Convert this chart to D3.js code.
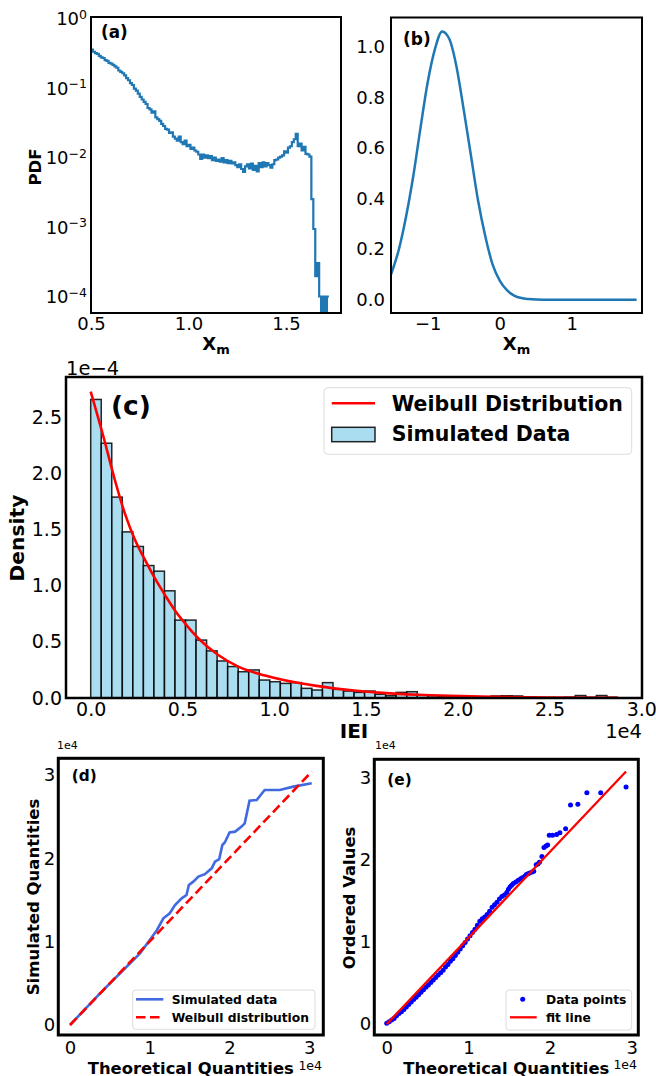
<!DOCTYPE html>
<html lang="en">
<head>
<meta charset="UTF-8">
<title>IEI statistics</title>
<script src="https://d3js.org/d3.v7.min.js"></script>
<style>
  body { margin: 0; background: #fff; }
  svg text { font-family: "DejaVu Sans", sans-serif; fill: #000; }
</style>
</head>
<body>
<div id="chart"></div>
<script>
// ---------- data ----------

// (a) histogram of X_m, log PDF, bins of 0.01 starting at 0.5
const aBinStart = 0.5, aBinWidth = 0.01;
const aPdf = [
  0.339, 0.316, 0.302, 0.295, 0.275, 0.263, 0.257, 0.240, 0.234, 0.219,
  0.214, 0.204, 0.195, 0.186, 0.170, 0.162, 0.155, 0.145, 0.132, 0.123,
  0.112, 0.105, 0.093, 0.087, 0.079, 0.071, 0.065, 0.060, 0.056, 0.049,
  0.047, 0.042, 0.044, 0.036, 0.034, 0.032, 0.029, 0.027, 0.0245, 0.024,
  0.0214, 0.0219, 0.019, 0.0178, 0.0166, 0.019, 0.0158, 0.0148, 0.0166, 0.0138,
  0.0145, 0.0126, 0.0132, 0.0120, 0.0115, 0.0105, 0.0091, 0.0105, 0.0095, 0.0102,
  0.0093, 0.0100, 0.0087, 0.0095, 0.0085, 0.0089, 0.0083, 0.0093, 0.0081, 0.0087,
  0.0079, 0.0085, 0.0078, 0.0081, 0.0074, 0.0069, 0.0076, 0.0065, 0.0059, 0.0071,
  0.0076, 0.0066, 0.0078, 0.0063, 0.0072, 0.0060, 0.0079, 0.0069, 0.0081, 0.0071,
  0.0079, 0.0074, 0.0068, 0.0076, 0.0087, 0.0089, 0.0095, 0.0098, 0.0102, 0.0117,
  0.0112, 0.0132, 0.0138, 0.0158, 0.0174, 0.0209, 0.0138, 0.0151, 0.0120, 0.0135,
  0.0107, 0.0105, 0.0098, 0.0024, 0.00089, 0.000186, 0.000288, 0.000095, 0, 0.000095,
  0, 0.000095
];

// (b) density curve of X_m
const bX = [-1.51, -1.4, -1.3, -1.2, -1.1, -1.0, -0.9, -0.8, -0.7, -0.6, -0.5, -0.4, -0.3,
            -0.2, -0.1, 0.0, 0.1, 0.2, 0.3, 0.4, 0.5, 0.7, 1.0, 1.5, 1.9];
const bY = [0.10, 0.20, 0.33, 0.49, 0.68, 0.86, 0.99, 1.06, 1.03, 0.92, 0.75, 0.57, 0.39,
            0.25, 0.14, 0.076, 0.038, 0.017, 0.007, 0.003, 0.001, 0.0, 0.0, 0.0, 0.0];

// (c) IEI histogram (x in 1e4, density in 1e-4), 50 bins
const cBinWidth = 0.0574;
const cDensity = [
  2.66, 2.27, 1.79, 1.48, 1.35, 1.18, 1.13, 0.955, 0.694, 0.694,
  0.516, 0.42, 0.33, 0.28, 0.234, 0.25, 0.16, 0.145, 0.13, 0.137,
  0.086, 0.071, 0.137, 0.077, 0.062, 0.05, 0.062, 0.033, 0.02, 0.05,
  0.056, 0.027, 0.02, 0.015, 0.012, 0.01, 0.008, 0.006, 0.018, 0.02,
  0.018, 0.005, 0.004, 0.004, 0.003, 0.006, 0.022, 0.005, 0.022, 0.006
];
const cFitX = [0, 0.069, 0.132, 0.187, 0.241, 0.296, 0.35, 0.405, 0.459, 0.514, 0.587,
               0.695, 0.804, 0.95, 1.05, 1.23, 1.41, 1.59, 1.78, 1.96, 2.2, 2.5, 2.87];
const cFitY = [2.73, 2.33, 1.94, 1.64, 1.41, 1.23, 1.065, 0.917, 0.78, 0.665, 0.53,
               0.383, 0.279, 0.20, 0.16, 0.108, 0.071, 0.046, 0.029, 0.019, 0.011, 0.005, 0.002];

// (d) Q-Q: simulated vs theoretical (1e4)
const dTheo = [0, 0.376, 0.668, 0.877, 1.0, 1.09, 1.17, 1.25, 1.316, 1.4, 1.46, 1.49, 1.545,
               1.61, 1.69, 1.776, 1.817, 1.87, 1.91, 1.94, 2.0, 2.07, 2.15, 2.19, 2.25, 2.34,
               2.44, 2.63, 2.80, 3.03];
const dSim  = [0, 0.38, 0.66, 0.86, 1.02, 1.14, 1.28, 1.34, 1.44, 1.52, 1.56, 1.68, 1.72,
               1.78, 1.81, 1.88, 1.96, 1.99, 2.16, 2.19, 2.31, 2.32, 2.38, 2.42, 2.69, 2.70,
               2.82, 2.82, 2.86, 2.90];
const dRefX = [0, 3.03], dRefY = [0, 3.04];

// (e) probability plot: ordered values vs theoretical quantiles (1e4)
const eTheo = [0.00, 0.03, 0.06, 0.09, 0.12, 0.15, 0.18, 0.21, 0.24, 0.27, 0.30, 0.33, 0.36,
               0.39, 0.42, 0.45, 0.48, 0.51, 0.54, 0.57, 0.60, 0.63, 0.66, 0.69, 0.72, 0.75,
               0.78, 0.81, 0.84, 0.87, 0.90, 0.93, 0.96, 0.99, 1.02, 1.05, 1.08, 1.11, 1.14,
               1.17, 1.20, 1.23, 1.26, 1.29, 1.32, 1.35, 1.38, 1.41, 1.44, 1.47, 1.49, 1.51,
               1.53, 1.55, 1.58, 1.61, 1.64, 1.66, 1.69, 1.71, 1.73, 1.75, 1.78, 1.80, 1.83,
               1.85, 1.87, 1.90, 1.925, 1.95, 1.97, 1.99, 2.03, 2.08, 2.12, 2.19, 2.25, 2.34,
               2.45, 2.62, 2.93];
const eOrd  = [0.00, 0.02, 0.04, 0.06, 0.09, 0.12, 0.14, 0.17, 0.20, 0.23, 0.26, 0.29, 0.32,
               0.35, 0.38, 0.41, 0.44, 0.47, 0.50, 0.53, 0.56, 0.59, 0.62, 0.65, 0.69, 0.72,
               0.76, 0.79, 0.83, 0.87, 0.91, 0.95, 0.99, 1.03, 1.07, 1.11, 1.15, 1.20, 1.25,
               1.28, 1.30, 1.33, 1.37, 1.42, 1.45, 1.48, 1.52, 1.55, 1.57, 1.60, 1.64, 1.67,
               1.69, 1.71, 1.73, 1.75, 1.77, 1.78, 1.80, 1.82, 1.83, 1.84, 1.85, 1.86, 1.94,
               1.95, 1.97, 2.04, 2.15, 2.17, 2.18, 2.30, 2.30, 2.31, 2.33, 2.38, 2.67, 2.68,
               2.82, 2.82, 2.89];
const eFitX = [0, 2.93], eFitY = [-0.01, 3.08];

// ---------- drawing ----------
const svg = d3.select("#chart").append("svg")
  .attr("width", 656).attr("height", 1076);

const FONT = "DejaVu Sans";

function frame(x0, y0, x1, y1, w) {
  svg.append("rect")
    .attr("x", x0).attr("y", y0)
    .attr("width", x1 - x0).attr("height", y1 - y0)
    .attr("fill", "none").attr("stroke", "#000").attr("stroke-width", w);
}

function clipRect(id, x0, y0, x1, y1) {
  svg.append("clipPath").attr("id", id).append("rect")
    .attr("x", x0).attr("y", y0).attr("width", x1 - x0).attr("height", y1 - y0);
}

function styleAxis(g, size) {
  g.attr("font-family", FONT).attr("font-size", size);
  g.select(".domain").remove();
  g.selectAll("text").attr("fill", "#000");
}

function text(x, y, str, size, opts = {}) {
  const t = svg.append("text")
    .attr("x", x).attr("y", y)
    .attr("font-size", size)
    .attr("font-weight", opts.bold ? "bold" : "normal")
    .attr("text-anchor", opts.anchor || "start")
    .text(str);
  if (opts.rotate) t.attr("transform", `rotate(-90, ${x}, ${y})`);
  return t;
}

function xmLabel(cx, y) {
  const t = svg.append("text").attr("x", cx).attr("y", y)
    .attr("text-anchor", "middle").attr("font-weight", "bold").attr("font-size", 18);
  t.append("tspan").text("X");
  t.append("tspan").attr("font-size", 13).attr("dy", 4).text("m");
}

// ----- (a) -----
{
  const x0 = 91, x1 = 341, y0 = 17, y1 = 313;
  const x = d3.scaleLinear().domain([0.5, 1.782]).range([x0, x1]);
  const y = d3.scaleLog().domain([5.5e-5, 1]).range([y1, y0]);
  clipRect("clipA", x0, y0, x1, y1);

  const pts = aPdf.map((v, i) => [aBinStart + i * aBinWidth, v]);
  pts.push([aBinStart + aPdf.length * aBinWidth, aPdf[aPdf.length - 1]]);
  svg.append("path")
    .attr("clip-path", "url(#clipA)")
    .attr("d", d3.line()
      .x(d => x(d[0]))
      .y(d => d[1] > 0 ? y(d[1]) : y1 + 20)
      .curve(d3.curveStepAfter)(pts))
    .attr("fill", "none").attr("stroke", "#1f77b4").attr("stroke-width", 2.2);

  svg.append("g").attr("transform", `translate(0,${y1})`)
    .call(d3.axisBottom(x).tickValues([0.5, 1.0, 1.5]).tickSize(0).tickPadding(4)
      .tickFormat(d3.format(".1f")))
    .call(g => styleAxis(g, 18));

  const exps = { 1: "0", 0.1: "−1", 0.01: "−2", 0.001: "−3", 0.0001: "−4" };
  svg.append("g").attr("transform", `translate(${x0},0)`)
    .call(d3.axisLeft(y).tickValues([1, 0.1, 0.01, 0.001, 0.0001]).tickSize(0).tickPadding(4)
      .tickFormat(() => ""))
    .call(g => styleAxis(g, 18))
    .call(g => g.selectAll(".tick text").attr("dy", "0.42em").each(function (d) {
      const t = d3.select(this);
      t.append("tspan").text("10");
      t.append("tspan").attr("dy", "-0.5em").attr("font-size", 12.5).text(exps[d]);
    }));

  frame(x0, y0, x1, y1, 2);
  text(101, 38, "(a)", 16.8, { bold: true });
  text(41, 167, "PDF", 16.5, { bold: true, anchor: "middle", rotate: true });
  xmLabel(216, 350);
}

// ----- (b) -----
{
  const x0 = 391, x1 = 642, y0 = 17.5, y1 = 313;
  const x = d3.scaleLinear().domain([-1.51, 1.975]).range([x0, x1]);
  const y = d3.scaleLinear().domain([-0.052, 1.115]).range([y1, y0]);

  svg.append("path")
    .attr("d", d3.line().x((d, i) => x(bX[i])).y(d => y(d)).curve(d3.curveMonotoneX)(bY))
    .attr("fill", "none").attr("stroke", "#1f77b4").attr("stroke-width", 2.5);

  svg.append("g").attr("transform", `translate(0,${y1})`)
    .call(d3.axisBottom(x).tickValues([-1, 0, 1]).tickSize(0).tickPadding(4)
      .tickFormat(d3.format("d")))
    .call(g => styleAxis(g, 18));
  svg.append("g").attr("transform", `translate(${x0},0)`)
    .call(d3.axisLeft(y).tickValues([0, 0.2, 0.4, 0.6, 0.8, 1.0]).tickSize(0).tickPadding(6)
      .tickFormat(d3.format(".1f")))
    .call(g => styleAxis(g, 18));

  frame(x0, y0, x1, y1, 2);
  text(403, 45, "(b)", 17, { bold: true });
  xmLabel(516.5, 350);
}

// ----- (c) -----
{
  const x0 = 66, x1 = 642, y0 = 377, y1 = 698;
  const x = d3.scaleLinear().domain([-0.1346, 3.004]).range([x0, x1]);
  const y = d3.scaleLinear().domain([0, 2.86]).range([y1, y0]);

  svg.append("g").selectAll("rect").data(cDensity).join("rect")
    .attr("x", (d, i) => x(i * cBinWidth))
    .attr("width", (d, i) => x((i + 1) * cBinWidth) - x(i * cBinWidth))
    .attr("y", d => y(d))
    .attr("height", d => y(0) - y(d))
    .attr("fill", "#87ceeb").attr("fill-opacity", 0.7)
    .attr("stroke", "#000").attr("stroke-opacity", 0.85).attr("stroke-width", 1.5);

  svg.append("path")
    .attr("d", d3.line().x((d, i) => x(cFitX[i])).y(d => y(d)).curve(d3.curveMonotoneX)(cFitY))
    .attr("fill", "none").attr("stroke", "#ff0000").attr("stroke-width", 2.6);

  svg.append("g").attr("transform", `translate(0,${y1})`)
    .call(d3.axisBottom(x).tickValues([0, 0.5, 1.0, 1.5, 2.0, 2.5, 3.0]).tickSize(0).tickPadding(5)
      .tickFormat(d3.format(".1f")))
    .call(g => styleAxis(g, 19));
  svg.append("g").attr("transform", `translate(${x0},0)`)
    .call(d3.axisLeft(y).tickValues([0, 0.5, 1.0, 1.5, 2.0, 2.5]).tickSize(0).tickPadding(4)
      .tickFormat(d3.format(".1f")))
    .call(g => styleAxis(g, 19));

  frame(x0, y0, x1, y1, 2.5);
  text(66, 375, "1e−4", 19.5);
  text(642, 738, "1e4", 19.5, { anchor: "end" });
  text(354, 738, "IEI", 20, { bold: true, anchor: "middle" });
  text(24, 538, "Density", 20.3, { bold: true, anchor: "middle", rotate: true });
  text(111, 415, "(c)", 26.5, { bold: true });

  // legend
  const lg = svg.append("g");
  lg.append("rect").attr("x", 324).attr("y", 387.7).attr("width", 307.7).attr("height", 66.6)
    .attr("rx", 4).attr("fill", "#fff").attr("fill-opacity", 0.8)
    .attr("stroke", "#dcdcdc").attr("stroke-width", 1);
  lg.append("line").attr("x1", 331.7).attr("x2", 375).attr("y1", 403.3).attr("y2", 403.3)
    .attr("stroke", "#ff0000").attr("stroke-width", 2.6);
  lg.append("rect").attr("x", 331.7).attr("y", 427.3).attr("width", 43.3).attr("height", 14.4)
    .attr("fill", "#87ceeb").attr("fill-opacity", 0.7)
    .attr("stroke", "#000").attr("stroke-opacity", 0.85).attr("stroke-width", 1.5);
  text(391.7, 411, "Weibull Distribution", 20.5, { bold: true });
  text(391.7, 441, "Simulated Data", 20.5, { bold: true });
}

// ----- (d) -----
{
  const x0 = 58.3, x1 = 323.3, y0 = 758.3, y1 = 1035;
  const x = d3.scaleLinear().domain([-0.147, 3.175]).range([x0, x1]);
  const y = d3.scaleLinear().domain([-0.12, 3.2]).range([y1, y0]);

  svg.append("path")
    .attr("d", d3.line().x((d, i) => x(dTheo[i])).y(d => y(d))(dSim))
    .attr("fill", "none").attr("stroke", "#4169e1").attr("stroke-width", 2.6);
  svg.append("path")
    .attr("d", d3.line().x((d, i) => x(dRefX[i])).y(d => y(d))(dRefY))
    .attr("fill", "none").attr("stroke", "#ff0000").attr("stroke-width", 2.6)
    .attr("stroke-dasharray", "9.5,4.5");

  svg.append("g").attr("transform", `translate(0,${y1})`)
    .call(d3.axisBottom(x).tickValues([0, 1, 2, 3]).tickSize(0).tickPadding(6)
      .tickFormat(d3.format("d")))
    .call(g => styleAxis(g, 18));
  svg.append("g").attr("transform", `translate(${x0},0)`)
    .call(d3.axisLeft(y).tickValues([0, 1, 2, 3]).tickSize(0).tickPadding(3)
      .tickFormat(d3.format("d")))
    .call(g => styleAxis(g, 18));

  frame(x0, y0, x1, y1, 3);
  text(57, 748.5, "1e4", 11);
  text(322, 1070, "1e4", 12.5, { anchor: "end" });
  text(190.8, 1073.5, "Theoretical Quantities", 16.4, { bold: true, anchor: "middle" });
  text(38.5, 897, "Simulated Quantities", 16.5, { bold: true, anchor: "middle", rotate: true });
  text(71.7, 781, "(d)", 15.3, { bold: true });

  const lg = svg.append("g");
  lg.append("rect").attr("x", 132.7).attr("y", 990).attr("width", 182.3).attr("height", 39.3)
    .attr("rx", 3).attr("fill", "#fff").attr("fill-opacity", 0.8)
    .attr("stroke", "#dcdcdc").attr("stroke-width", 1);
  lg.append("line").attr("x1", 136).attr("x2", 163.3).attr("y1", 999.3).attr("y2", 999.3)
    .attr("stroke", "#4169e1").attr("stroke-width", 2.6);
  lg.append("line").attr("x1", 136).attr("x2", 163.3).attr("y1", 1017.3).attr("y2", 1017.3)
    .attr("stroke", "#ff0000").attr("stroke-width", 2.6).attr("stroke-dasharray", "9.5,4.5");
  text(171.7, 1003.5, "Simulated data", 12.3, { bold: true });
  text(171.7, 1021.7, "Weibull distribution", 12.3, { bold: true });
}

// ----- (e) -----
{
  const x0 = 374.3, x1 = 638.3, y0 = 759.3, y1 = 1035;
  const x = d3.scaleLinear().domain([-0.152, 3.08]).range([x0, x1]);
  const y = d3.scaleLinear().domain([-0.143, 3.23]).range([y1, y0]);

  svg.append("g").selectAll("circle").data(eOrd).join("circle")
    .attr("cx", (d, i) => x(eTheo[i])).attr("cy", d => y(d)).attr("r", 2.5)
    .attr("fill", "#0000ff");
  svg.append("path")
    .attr("d", d3.line().x((d, i) => x(eFitX[i])).y(d => y(d))(eFitY))
    .attr("fill", "none").attr("stroke", "#ff0000").attr("stroke-width", 2.3);

  svg.append("g").attr("transform", `translate(0,${y1})`)
    .call(d3.axisBottom(x).tickValues([0, 1, 2, 3]).tickSize(0).tickPadding(6)
      .tickFormat(d3.format("d")))
    .call(g => styleAxis(g, 18));
  svg.append("g").attr("transform", `translate(${x0},0)`)
    .call(d3.axisLeft(y).tickValues([0, 1, 2, 3]).tickSize(0).tickPadding(3)
      .tickFormat(d3.format("d")))
    .call(g => styleAxis(g, 18));

  frame(x0, y0, x1, y1, 3);
  text(375, 749, "1e4", 11);
  text(637, 1069, "1e4", 12.5, { anchor: "end" });
  text(506.3, 1073.5, "Theoretical Quantities", 16.4, { bold: true, anchor: "middle" });
  text(354.5, 898, "Ordered Values", 16.4, { bold: true, anchor: "middle", rotate: true });
  text(387.3, 785, "(e)", 15.3, { bold: true });

  const lg = svg.append("g");
  lg.append("rect").attr("x", 506).attr("y", 990).attr("width", 125.7).attr("height", 40)
    .attr("rx", 3).attr("fill", "#fff").attr("fill-opacity", 0.8)
    .attr("stroke", "#dcdcdc").attr("stroke-width", 1);
  lg.append("circle").attr("cx", 522.7).attr("cy", 999.3).attr("r", 2.5).attr("fill", "#0000ff");
  lg.append("line").attr("x1", 510).attr("x2", 536.7).attr("y1", 1017.3).attr("y2", 1017.3)
    .attr("stroke", "#ff0000").attr("stroke-width", 2.3);
  text(546, 1003.5, "Data points", 12.3, { bold: true });
  text(546, 1021.7, "fit line", 12.3, { bold: true });
}
</script>
</body>
</html>
